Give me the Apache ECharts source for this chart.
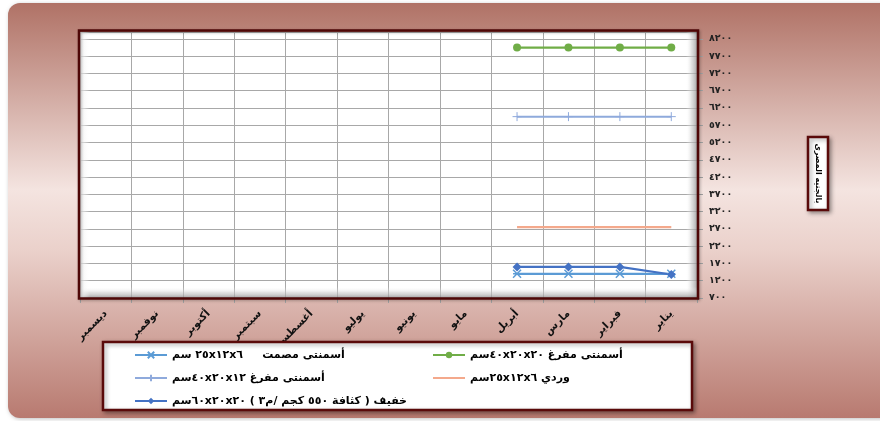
<!DOCTYPE html>
<html>
<head>
<meta charset="utf-8">
<script src="https://cdn.jsdelivr.net/npm/echarts@6/dist/echarts.min.js"></script>
<style>
html,body{margin:0;padding:0;background:#ffffff;}
#chart{width:880px;height:421px;}
</style>
</head>
<body>
<div id="chart" dir="rtl"></div>
<script>
// ---- data ----
const months = ['يناير','فبراير','مارس','أبريل','مايو','يونيو','يوليو','أغسطس','سبتمبر','أكتوبر','نوفمبر','ديسمبر'];
const yMin = 700, yMax = 8400, yStep = 500;
const nameHollow40x20x20 = 'أسمنتى مفرغ ٤٠x٢٠x٢٠سم';
const nameSolid = 'أسمنتى مصمت     ٢٥x١٢x٦ سم';
const nameRed = 'وردي ٢٥x١٢x٦سم';
const nameHollow40x20x12 = 'أسمنتى مفرغ ٤٠x٢٠x١٢سم';
const nameLight = 'خفيف ( كثافة ٥٥٠ كجم /م٣ ) ٦٠x٢٠x٢٠سم';
const hollow40x20x20 = [7950, 7950, 7950, 7950, null, null, null, null, null, null, null, null];
const solid = [1400, 1400, 1400, 1400, null, null, null, null, null, null, null, null];
const redBrick = [2750, 2750, 2750, 2750, null, null, null, null, null, null, null, null];
const hollow40x20x12 = [5950, 5950, 5950, 5950, null, null, null, null, null, null, null, null];
const lightBlock = [1380, 1600, 1600, 1600, null, null, null, null, null, null, null, null];
const yAxisTitle = 'بالجنيه المصرى';

const arabicDigits = ['٠','١','٢','٣','٤','٥','٦','٧','٨','٩'];
function toArabic(v){ return String(v).replace(/[0-9]/g, d => arabicDigits[+d]); }

const FONT = '"DejaVu Sans", sans-serif';
const gridL = 80, gridT = 32, gridR = 697, gridB = 298;

const chart = echarts.init(document.getElementById('chart'), null, {renderer:'canvas'});
const legendText = {color: '#000', fontSize: 11, fontWeight: 'bold', fontFamily: FONT, lineHeight: 14};
const option = {
  animation: false,
  backgroundColor: '#ffffff',
  textStyle: {fontFamily: FONT},
  grid: {left: gridL, top: gridT, width: gridR - gridL, height: gridB - gridT, backgroundColor:'#ffffff', show:true, borderWidth:0},
  xAxis: {
    type: 'category', data: months, inverse: true, boundaryGap: true,
    axisLine: {show: true, lineStyle: {color: '#8c8c8c', width: 1}},
    axisTick: {show: true, length: 5, lineStyle: {color: '#a0a0a0'}},
    axisLabel: {rotate: 45, margin: 14, color: '#111', fontSize: 10.5, fontWeight: 'bold', fontFamily: FONT},
    splitLine: {show: true, lineStyle: {color: '#a8a8a8', width: 1}}
  },
  yAxis: {
    type: 'value', position: 'right', min: yMin, max: yMax, interval: yStep,
    axisLine: {show: false},
    axisTick: {show: true, length: 6, lineStyle: {color: '#a0a0a0'}},
    axisLabel: {margin: 12, color: '#222', fontSize: 9.5, fontWeight: 'bold', fontFamily: FONT,
      showMaxLabel: false, formatter: v => toArabic(v)},
    splitLine: {show: true, lineStyle: {color: '#a8a8a8', width: 1}}
  },
  legend: [
    {left: 129, top: 343, orient: 'vertical', itemWidth: 32, itemHeight: 8, itemGap: 9,
     textStyle: legendText, data: [nameSolid, nameHollow40x20x12, nameLight]},
    {left: 427, top: 343, orient: 'vertical', itemWidth: 32, itemHeight: 8, itemGap: 9,
     textStyle: legendText, data: [nameHollow40x20x20, {name: nameRed, itemStyle: {opacity: 0}}]}
  ],
  graphic: [
    {type: 'rect', z: -10, shape: {x: 8, y: 3, width: 900, height: 415, r: 12},
     style: {fill: new echarts.graphic.LinearGradient(0, 0, 0, 1, [
       {offset: 0, color: '#b07266'}, {offset: 0.45, color: '#f4e4e0'},
       {offset: 0.6, color: '#ead0ca'}, {offset: 1, color: '#b87a70'}]),
       shadowBlur: 4, shadowColor: 'rgba(0,0,0,0.25)', shadowOffsetX: 1, shadowOffsetY: 1}},
    // bevel inside plot frame
    {type: 'rect', z: 1, silent: true, shape: {x: gridR - 11, y: gridT, width: 11, height: gridB - gridT},
     style: {fill: new echarts.graphic.LinearGradient(0, 0, 1, 0, [
       {offset: 0, color: 'rgba(255,255,255,0)'}, {offset: 0.5, color: 'rgba(200,200,200,0.55)'}, {offset: 1, color: 'rgba(150,150,150,0.8)'}])}},
    {type: 'rect', z: 1, silent: true, shape: {x: gridL, y: gridB - 11, width: gridR - gridL, height: 11},
     style: {fill: new echarts.graphic.LinearGradient(0, 0, 0, 1, [
       {offset: 0, color: 'rgba(255,255,255,0)'}, {offset: 0.5, color: 'rgba(200,200,200,0.55)'}, {offset: 1, color: 'rgba(150,150,150,0.8)'}])}},
    {type: 'rect', z: 1, silent: true, shape: {x: gridL, y: gridT, width: 10, height: gridB - gridT},
     style: {fill: new echarts.graphic.LinearGradient(0, 0, 1, 0, [
       {offset: 0, color: 'rgba(235,235,235,0.9)'}, {offset: 1, color: 'rgba(255,255,255,0)'}])}},
    {type: 'rect', z: 6, silent: true, shape: {x: gridL - 1, y: gridT - 1.5, width: gridR - gridL + 2, height: gridB - gridT + 2},
     style: {fill: 'none', stroke: '#4e0707', lineWidth: 2.5,
       shadowBlur: 3, shadowColor: 'rgba(0,0,0,0.3)', shadowOffsetX: 1, shadowOffsetY: 1}},
    // legend box
    {type: 'rect', z: 3, shape: {x: 103, y: 342, width: 589, height: 68},
     style: {fill: '#ffffff', stroke: '#5a0a0a', lineWidth: 2.5,
       shadowBlur: 4, shadowColor: 'rgba(0,0,0,0.35)', shadowOffsetX: 2, shadowOffsetY: 2}},
    // y axis title box
    {type: 'rect', z: 5, shape: {x: 808, y: 137, width: 20, height: 73},
     style: {fill: '#ffffff', stroke: '#5a0a0a', lineWidth: 2.5,
       shadowBlur: 4, shadowColor: 'rgba(0,0,0,0.35)', shadowOffsetX: 2, shadowOffsetY: 2}},
    {type: 'text', z: 6, x: 818, y: 173.5, rotation: -Math.PI / 2,
     style: {text: yAxisTitle, fill: '#000', font: 'bold 8px ' + FONT, align: 'center', verticalAlign: 'middle'}}
  ],
  series: [
    {name: nameHollow40x20x20, type: 'line', data: hollow40x20x20, symbol: 'circle', symbolSize: 8,
     itemStyle: {color: '#70ad47'}, lineStyle: {color: '#70ad47', width: 2.25}},
    {name: nameSolid, type: 'line', data: solid,
     symbol: 'path://M0,0L10,10M10,0L0,10M0,5L10,5', symbolSize: 8,
     itemStyle: {color: '#5b9bd5', borderColor: '#5b9bd5', borderWidth: 1.5},
     lineStyle: {color: '#5b9bd5', width: 2.25}},
    {name: nameRed, type: 'line', data: redBrick, symbol: 'none',
     itemStyle: {color: '#f4a98c'}, lineStyle: {color: '#f4a98c', width: 2.25}},
    {name: nameHollow40x20x12, type: 'line', data: hollow40x20x12,
     symbol: 'path://M5,0L5,10M0,5L10,5', symbolSize: 9,
     itemStyle: {color: '#8faadc', borderColor: '#8faadc', borderWidth: 1},
     lineStyle: {color: '#8faadc', width: 2}},
    {name: nameLight, type: 'line', data: lightBlock, symbol: 'diamond', symbolSize: 9,
     itemStyle: {color: '#4472c4'}, lineStyle: {color: '#4472c4', width: 2.25}}
  ]
};
chart.setOption(option);
</script>
</body>
</html>
